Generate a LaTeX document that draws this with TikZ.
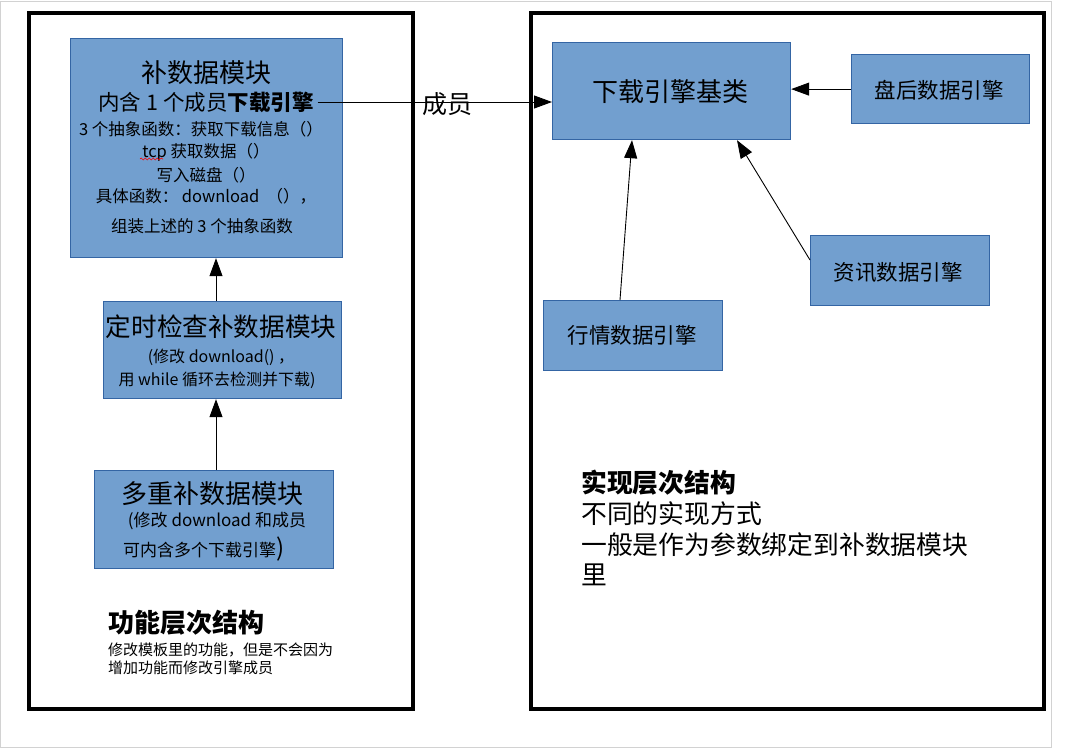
\documentclass[tikz,border=0pt]{standalone}
\usepackage{fontspec}
\newfontfamily\cjk{Noto Sans CJK SC}
\usetikzlibrary{arrows.meta,decorations.pathmorphing,calc}
\definecolor{boxfill}{HTML}{729FCF}
\definecolor{boxline}{HTML}{3465A4}
\newcommand{\fsz}[1]{\fontsize{#1}{#1}\selectfont}
\begin{document}
\begin{tikzpicture}[x=1pt,y=-1pt,
  frame/.style={draw=black,line width=4pt},
  box/.style={draw=boxline,line width=1.2pt,fill=boxfill,inner sep=0pt,anchor=north west},
  txt/.style={inner sep=0pt,font=\cjk,text=black},
  arr/.style={draw=black,line width=0.9pt,-{Triangle[length=18pt,width=13pt]}}
]
\useasboundingbox (0,0) rectangle (1068,753);
\draw[gray!35,line width=1pt] (0.5,1) rectangle (1051,747);
% frames
\draw[frame] (29,13) rectangle (413,709);
\draw[frame] (531,13) rectangle (1044,709);
% left boxes
\node[box,minimum width=272pt,minimum height=219pt] (b1) at (70,38) {};
\node[box,minimum width=238pt,minimum height=97pt] (b2) at (103,301) {};
\node[box,minimum width=239pt,minimum height=98pt] (b3) at (94,470) {};
% right boxes
\node[box,minimum width=238pt,minimum height=97pt] (base) at (552,42) {};
\node[box,minimum width=178pt,minimum height=69pt] (pan) at (851,54) {};
\node[box,minimum width=179pt,minimum height=70pt] (zx) at (810,235) {};
\node[box,minimum width=179pt,minimum height=70pt] (hq) at (543,300) {};
% box1 text
\node[txt,font=\cjk\fsz{26}] (b1t1) at (206,73) {补数据模块};
\node[txt,font=\cjk\fsz{21.5}] (b1t2) at (206,102) {内含 1 个成员\textbf{下载引擎}};
\node[txt,font=\cjk\fsz{16.5}] (b1t3) at (201,129) {3 个抽象函数：获取下载信息（）};
\node[txt,font=\cjk\fsz{16.5}] (b1t4) at (206,152) {tcp 获取数据（）};
\node[txt,font=\cjk\fsz{16.5}] (b1t5) at (206,175) {写入磁盘（）};
\node[txt,font=\cjk\fsz{16.5}] (b1t6) at (206,196) {具体函数：\ download \ （），};
\node[txt,font=\cjk\fsz{16.5}] (b1t7) at (202,226) {组装上述的 3 个抽象函数};
\draw[red,line width=0.6pt,decorate,decoration={snake,amplitude=1pt,segment length=4pt}] (140,159) -- (163,159);
% box2 text
\node[txt,font=\cjk\fsz{25.6}] (b2t1) at (221,327) {定时检查补数据模块};
\node[txt,font=\cjk\fsz{16}] (b2t2) at (221,357) {(修改 download() ，};
\node[txt,font=\cjk\fsz{16}] (b2t3) at (217,380) {用 while 循环去检测并下载)};
% box3 text
\node[txt,font=\cjk\fsz{26}] (b3t1) at (212,494) {多重补数据模块};
\node[txt,font=\cjk\fsz{17}] (b3t2) at (217,521) {(修改 download 和成员};
\node[txt,font=\cjk\fsz{17},anchor=west] (b3t3) at (123,549) {可内含多个下载引擎{\fsz{24})}};
% right box texts
\node[txt,font=\cjk\fsz{26}] (baset) at (670,92) {下载引擎基类};
\node[txt,font=\cjk\fsz{21.5}] (pant) at (939,90) {盘后数据引擎};
\node[txt,font=\cjk\fsz{21.5}] (zxt) at (898,272) {资讯数据引擎};
\node[txt,font=\cjk\fsz{21.5}] (hqt) at (632,335) {行情数据引擎};
% captions
\node[txt,font=\cjk\fsz{26}\bfseries,anchor=west] (capl1) at (108,623) {功能层次结构};
\node[txt,font=\cjk\fsz{15},anchor=west] (capl2) at (108,650) {修改模板里的功能，但是不会因为};
\node[txt,font=\cjk\fsz{15},anchor=west] (capl3) at (108,668) {增加功能而修改引擎成员};
\node[txt,font=\cjk\fsz{25.8}\bfseries,anchor=west] (capr1) at (581,483) {实现层次结构};
\node[txt,font=\cjk\fsz{25.8},anchor=west] (capr2) at (581,514) {不同的实现方式};
\node[txt,font=\cjk\fsz{25.8},anchor=west] (capr3) at (581,545) {一般是作为参数绑定到补数据模块};
\node[txt,font=\cjk\fsz{25.8},anchor=west] (capr4) at (581,575) {里};
% connectors
\coordinate (cx) at (216,0);
\draw[arr] (cx |- b2.north) -- (cx |- b1.south);
\draw[arr] (cx |- b3.north) -- (cx |- b2.south);
\draw[arr] ([xshift=4pt]b1t2.east) -- (b1t2.east -| base.west);
\node[txt,font=\cjk\fsz{25}] (mem) at (447,104) {成员};
\draw[arr] (pan.west) -- (pan.west -| base.east);
\draw[arr] ($(hq.north west)+(77,0)$) -- ($(base.south west)+(80,0)$);
\draw[arr] ($(zx.north west)+(0,25)$) -- ($(base.south west)+(185,0)$);
\end{tikzpicture}
\end{document}
